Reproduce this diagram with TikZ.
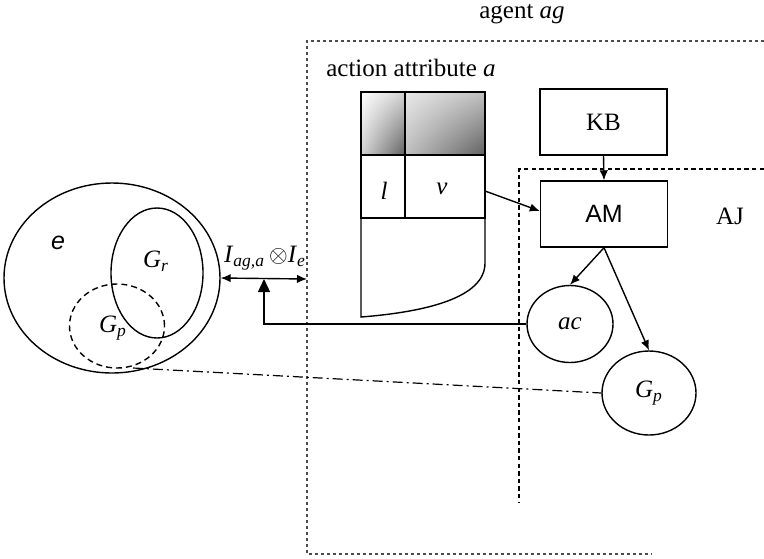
\documentclass[tikz,border=0pt]{standalone}
\usepackage{fontspec}
\setmainfont{Liberation Serif}
\newfontfamily\arial{Liberation Sans}
\usetikzlibrary{shapes.geometric,arrows.meta,shadings}
\begin{document}
\begin{tikzpicture}[x=0.5pt,y=-0.5pt, line width=0.7pt,
  lbl/.style={inner sep=0, font=\fontsize{12.5}{15}\selectfont},
  box/.style={draw, minimum width=63.5pt, minimum height=33pt, inner sep=0, font=\fontsize{12.5}{15}\selectfont},
  ell/.style={draw, ellipse, inner sep=0, font=\fontsize{12.5}{15}\selectfont},
  arr/.style={-{Latex[length=5pt,width=4.2pt]}},
  agentline/.style={gray!60!black, dash pattern=on 1.6pt off 1.4pt, line width=0.6pt},
  ajline/.style={dash pattern=on 2.2pt off 1.6pt, line width=0.55pt},
  dashdot/.style={dash pattern=on 5pt off 2pt on 1pt off 2pt, line width=0.6pt}
]
\useasboundingbox (0,0) rectangle (764,558);

% agent box and AJ box
\draw[agentline] (764,41) -- (307,41) -- (307,554) -- (652,554);
\coordinate (boxedge) at (307,279);
\draw[ajline] (764,169) -- (519,169) -- (519,502);

\node[lbl] (agent) at (522,14) {agent \textit{ag}};
\node[lbl] (attr) at (411,68) {action attribute \textit{a}};

% attribute table
\shade[upper left=white, upper right=gray!35, lower left=gray!35, lower right=gray!75!black] (361,92) rectangle (405,155);
\shade[upper left=gray!18, upper right=gray!50, lower left=gray!50, lower right=black!62] (405,92) rectangle (485,155);
\draw[line width=0.9pt] (361,92) rectangle (485,155);
\draw[line width=0.9pt] (405,92) -- (405,155);
\draw (405,155) -- (405,218);
\draw (361,155) -- (361,218) -- (485,218) -- (485,155);
\draw (361,218) -- (361,317) .. controls (425,312) and (485,298) .. (485,263) -- (485,218);
\node[lbl] (lcell) at (384,191) {\textit{l}};
\node[lbl] (vcell) at (442,189) {\textit{v}};
\coordinate (vright) at (485,191);

% KB / AM
\node[box] (KB) at (603.5,122) {KB};
\node[box, font=\arial\fontsize{12.5}{15}\selectfont] (AM) at (604,214) {AM};
\node[lbl] (AJ) at (730,216) {AJ};

\node[ell, minimum width=43pt, minimum height=38.5pt] (ac) at (570,324) {\textit{ac}};
\node[ell, minimum width=47pt, minimum height=42pt] (gp2) at (649,393) {\textit{G}\textsubscript{\textit{p}}};

% environment
\node[ell, minimum width=108pt, minimum height=95pt] (e) at (112,278) {};
\node[lbl, font=\arial\itshape\fontsize{12.5}{15}\selectfont] (elbl) at (58,243) {e};
\node[ell, minimum width=46pt, minimum height=65pt] (gr) at (157,273) {};
\node[lbl] (grlbl) at (156,261) {\textit{G}\textsubscript{\textit{r}}};
\node[ell, dashed, dash pattern=on 3pt off 2pt, minimum width=47.5pt, minimum height=42pt] (gp1) at (117,326) {};
\node[lbl] (gp1lbl) at (113,328) {\textit{G}\textsubscript{\textit{p}}};

\node[lbl] (ilbl) at (265,258) {\textit{I}\textsubscript{\textit{ag,a}}\,$\otimes$\textit{I}\textsubscript{\textit{e}}};

% connectors
\draw[arr] (KB.south) -- (AM.north);
\draw[arr] (vright) -- ([yshift=1.5pt]AM.west);
\draw[arr] (AM.south) -- (ac.north);
\draw[arr] (AM.south) -- (gp2.north);
\draw[{Latex[length=5pt,width=4.2pt]}-{Latex[length=5pt,width=4.2pt]}] (e.east) -- (boxedge);
\coordinate (junc) at (264,279);
\draw[-{Triangle[length=6.5pt,width=6pt]}] (ac.west) -| (junc);
\coordinate (ddstart) at (133,368);
\draw[dashdot] (ddstart) -- (gp2.west);
\end{tikzpicture}
\end{document}
